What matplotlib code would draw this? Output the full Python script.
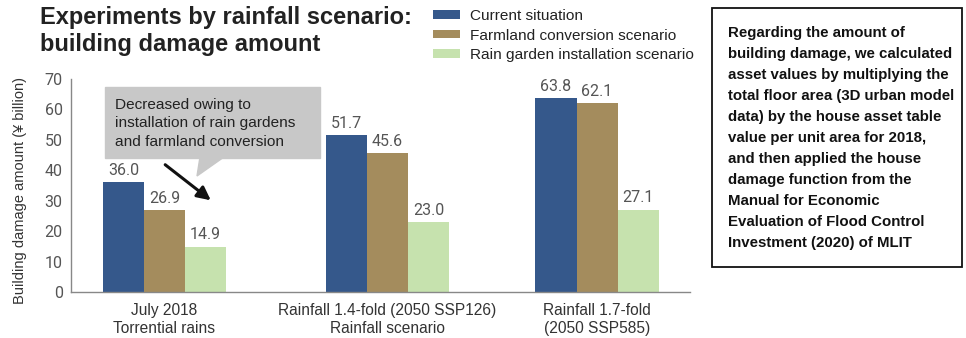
import matplotlib.pyplot as plt
from matplotlib.patches import Polygon, Rectangle
import numpy as np

# data
groups = ["July 2018\nTorrential rains",
          "Rainfall 1.4-fold (2050 SSP126)\nRainfall scenario",
          "Rainfall 1.7-fold\n(2050 SSP585)"]
series = ["Current situation", "Farmland conversion scenario",
          "Rain garden installation scenario"]
current = [36.0, 51.7, 63.8]
farmland = [26.9, 45.6, 62.1]
rain_garden = [14.9, 23.0, 27.1]
colors = ["#35588b", "#a48c5d", "#c6e2ae"]

note = ("Regarding the amount of\nbuilding damage, we calculated\n"
        "asset values by multiplying the\ntotal floor area (3D urban model\n"
        "data) by the house asset table\nvalue per unit area for 2018,\n"
        "and then applied the house\ndamage function from the\n"
        "Manual for Economic\nEvaluation of Flood Control\n"
        "Investment (2020) of MLIT")
callout = "Decreased owing to\ninstallation of rain gardens\nand farmland conversion"

W, H = 966, 338
plt.rcParams['font.family'] = ['Liberation Sans', 'DejaVu Sans']
num_font = ['Roboto', 'DejaVu Sans']


def px(x, y):
    # figure pixel -> figure fraction
    return x / W, 1 - y / H


fig = plt.figure(figsize=(W / 100, H / 100), dpi=100)
ax = fig.add_axes([71 / W, 1 - 292 / H, (690 - 71) / W, (292 - 79) / H])

x = np.array([0, 1, 1.94])
w = 0.184
for i, vals in enumerate([current, farmland, rain_garden]):
    bars = ax.bar(x + (i - 1) * w, vals, w, color=colors[i], label=series[i])
    for b, v in zip(bars, vals):
        ax.annotate(f"{v:.1f}", (b.get_x() + b.get_width() / 2, v),
                    xytext=(0, 3), textcoords="offset points",
                    ha="center", va="bottom", fontsize=11.5,
                    color="#555555", family=num_font)

ax.set_xlim(-0.419, 2.357)
ax.set_ylim(0, 70)
ax.set_yticks(range(0, 71, 10))
ax.set_xticks(x)
ax.set_xticklabels(groups, fontsize=11.2, color="#333333", linespacing=1.2)
for lab in ax.get_yticklabels():
    lab.set_family(num_font)
ax.tick_params(axis="y", length=0, labelsize=11.5, labelcolor="#555555", pad=6)
ax.tick_params(axis="x", length=0, pad=8)
for s in ["top", "right"]:
    ax.spines[s].set_visible(False)
for s in ["left", "bottom"]:
    ax.spines[s].set_color("#888888")
    ax.spines[s].set_linewidth(1)
ax.set_ylabel("Building damage amount (¥ billion)", fontsize=10.5, color="#333333")
ax.yaxis.set_label_coords(*ax.transAxes.inverted().transform(
    fig.transFigure.transform(px(27, 191))))

fig.text(*px(40, 6), "Experiments by rainfall scenario:\nbuilding damage amount",
         fontsize=17, fontweight="bold", color="#222222", va="top",
         linespacing=1.25)

handles, labels = ax.get_legend_handles_labels()
fig.legend(handles, labels, loc="upper left", bbox_to_anchor=px(433, 9),
           frameon=False, fontsize=11.1, handlelength=1.75, handleheight=0.45,
           handletextpad=0.65, labelspacing=0.36, borderpad=0, borderaxespad=0,
           labelcolor="#222222")

# callout box with tail
fig.patches.append(Rectangle(px(105, 158), 215 / W, 71 / H, color="#c8c8c8",
                             transform=fig.transFigure))
fig.patches.append(Polygon([px(200, 157), px(224, 157), px(197, 176)],
                           closed=True, color="#c8c8c8", transform=fig.transFigure))
fig.text(*px(115, 98), callout, fontsize=11.1, color="#222222", va="top",
         linespacing=1.4)
ax.annotate("", xy=px(213, 202), xytext=px(163, 163),
            xycoords="figure fraction", textcoords="figure fraction",
            arrowprops=dict(arrowstyle="-|>,head_length=0.8,head_width=0.4",
                            color="#111111", lw=2.2))

# explanatory note box
fig.patches.append(Rectangle(px(712, 267), 250 / W, 259 / H, fill=False,
                             edgecolor="#111111", lw=1.3,
                             transform=fig.transFigure))
fig.text(*px(728, 26), note, fontsize=10.8, fontweight="bold", color="#111111",
         va="top", linespacing=1.64)

fig.savefig("out.png", dpi=100)
